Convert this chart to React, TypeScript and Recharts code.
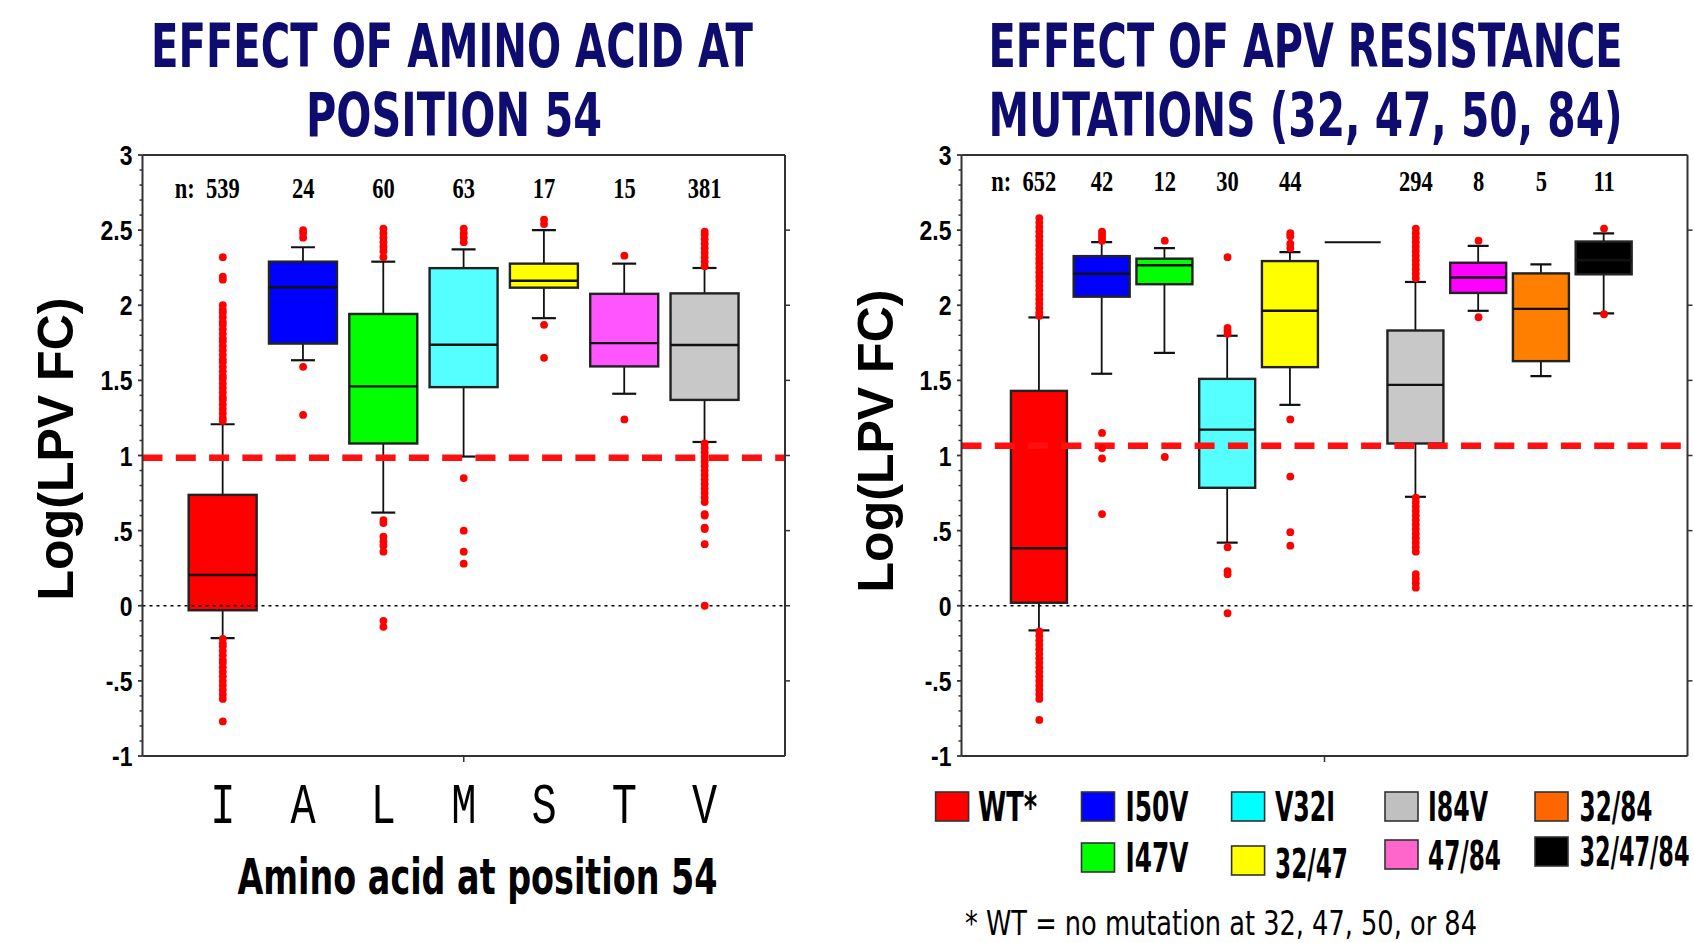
import React from 'react';
import { ComposedChart, Bar, Scatter, XAxis, YAxis, ReferenceLine } from 'recharts';

// ---------------- DATA ----------------
const LEFT_CATEGORIES = ['I', 'A', 'L', 'M', 'S', 'T', 'V'];
const LEFT_N = [539, 24, 60, 63, 17, 15, 381];
const LEFT_Q1 = [-0.03, 1.745, 1.08, 1.455, 2.117, 1.593, 1.37];
const LEFT_MEDIAN = [0.205, 2.12, 1.46, 1.737, 2.163, 1.748, 1.735];
const LEFT_Q3 = [0.738, 2.29, 1.942, 2.247, 2.277, 2.076, 2.079];
const LEFT_LOW = [-0.215, 1.634, 0.62, 0.993, 1.914, 1.411, 1.09];
const LEFT_HIGH = [1.208, 2.386, 2.29, 2.372, 2.5, 2.277, 2.248];
const LEFT_COLORS = ['#ff0000', '#0000ff', '#00ff00', '#55ffff', '#ffff00', '#ff55ff', '#c8c8c8'];
const LEFT_OUTLIERS: number[][] = [
  [2.32, 2.19, 2.17, 2.0, 1.97, 1.95, 1.92, 1.89, 1.87, 1.84, 1.81, 1.78, 1.76, 1.73, 1.7, 1.67, 1.64, 1.62, 1.59, 1.56, 1.53, 1.51, 1.48, 1.45, 1.42, 1.39, 1.37, 1.34, 1.31, 1.28, 1.25, 1.23,
    -0.22, -0.25, -0.27, -0.3, -0.33, -0.36, -0.38, -0.41, -0.44, -0.47, -0.5, -0.53, -0.56, -0.59, -0.62, -0.77],
  [2.5, 2.48, 2.45, 1.59, 1.27],
  [2.51, 2.48, 2.45, 2.42, 2.39, 2.36, 2.32, 0.57, 0.55, 0.46, 0.43, 0.4, 0.36, -0.1, -0.14],
  [2.51, 2.48, 2.45, 2.42, 0.85, 0.5, 0.36, 0.28],
  [2.57, 2.54, 1.87, 1.65],
  [2.33, 1.24],
  [2.49, 2.47, 2.44, 2.41, 2.38, 2.35, 2.32, 2.29, 2.26, 1.08, 1.05, 1.02, 0.99, 0.96, 0.93, 0.9, 0.87, 0.84, 0.81, 0.78, 0.75, 0.72, 0.69, 0.61, 0.6, 0.52, 0.51, 0.41, 0.0],
];
const LEFT_CUTOFF = 0.985;

const RIGHT_CATEGORIES = ['WT', 'I50V', 'I47V', 'V32I', '32/47', '', 'I84V', '47/84', '32/84', '32/47/84'];
const RIGHT_N: (number | null)[] = [652, 42, 12, 30, 44, null, 294, 8, 5, 11];
const RIGHT_Q1 = [0.02, 2.057, 2.14, 0.785, 1.588, 2.42, 1.08, 2.082, 1.628, 2.206];
const RIGHT_MEDIAN = [0.383, 2.21, 2.266, 1.172, 1.963, 2.42, 1.47, 2.185, 1.976, 2.3];
const RIGHT_Q3 = [1.43, 2.327, 2.31, 1.51, 2.294, 2.42, 1.832, 2.283, 2.212, 2.424];
const RIGHT_LOW = [-0.164, 1.544, 1.683, 0.42, 1.337, 2.42, 0.725, 1.963, 1.528, 1.946];
const RIGHT_HIGH = [1.919, 2.42, 2.38, 1.797, 2.353, 2.42, 2.155, 2.395, 2.272, 2.478];
const RIGHT_COLORS = ['#ff0000', '#0000ff', '#00ff00', '#55ffff', '#ffff00', 'none', '#c8c8c8', '#ff00ff', '#ff8000', '#000000'];
const RIGHT_OUTLIERS: number[][] = [
  [2.58, 2.55, 2.52, 2.49, 2.46, 2.43, 2.4, 2.37, 2.34, 2.31, 2.28, 2.25, 2.22, 2.19, 2.16, 2.13, 2.1, 2.07, 2.04, 2.01, 1.98, 1.95, 1.93,
    -0.17, -0.2, -0.23, -0.26, -0.29, -0.32, -0.35, -0.38, -0.41, -0.44, -0.47, -0.5, -0.53, -0.56, -0.59, -0.62, -0.76],
  [2.49, 2.47, 2.45, 2.43, 1.15, 1.05, 0.98, 0.61],
  [2.43, 0.99],
  [2.32, 1.85, 1.83, 1.81, 0.39, 0.23, 0.21, -0.05],
  [2.48, 2.46, 2.41, 2.38, 1.24, 0.86, 0.49, 0.4],
  [],
  [2.51, 2.48, 2.45, 2.42, 2.39, 2.36, 2.33, 2.3, 2.27, 2.24, 2.21, 2.18, 0.72, 0.69, 0.66, 0.63, 0.6, 0.57, 0.54, 0.51, 0.48, 0.45, 0.42, 0.39, 0.36, 0.21, 0.18, 0.15, 0.12],
  [2.43, 1.92],
  [],
  [2.51, 1.94],
];
const RIGHT_CUTOFF = 1.065;

const Y_TICKS = [-1, -0.5, 0, 0.5, 1, 1.5, 2, 2.5, 3];
const Y_SIDE_TICKS = [-0.5, 0, 0.5, 1, 1.5, 2, 2.5];
const Y_MINOR_TICKS = [-1, -0.9, -0.8, -0.7, -0.6, -0.5, -0.4, -0.3, -0.2, -0.1, 0, 0.1, 0.2, 0.3, 0.4, 0.5, 0.6, 0.7, 0.8, 0.9, 1,
  1.1, 1.2, 1.3, 1.4, 1.5, 1.6, 1.7, 1.8, 1.9, 2, 2.1, 2.2, 2.3, 2.4, 2.5, 2.6, 2.7, 2.8, 2.9, 3];

const LEGEND_NAMES = ['WT*', 'I50V', 'V32I', 'I84V', '32/84', 'I47V', '32/47', '47/84', '32/47/84'];
const LEGEND_COLORS = ['#ff0000', '#0000ff', '#00ffff', '#c0c0c0', '#ff6600', '#00ff00', '#ffff00', '#ff66cc', '#000000'];

const LEFT_TITLE = ['EFFECT OF AMINO ACID AT', 'POSITION 54'];
const RIGHT_TITLE = ['EFFECT OF APV RESISTANCE', 'MUTATIONS (32, 47, 50, 84)'];
const Y_TITLE = 'Log(LPV FC)';
const LEFT_X_TITLE = 'Amino acid at position 54';
const FOOTNOTE = '* WT = no mutation at 32, 47, 50, or 84';

// ---------------- LAYOUT / STYLE ----------------
const NAVY = '#0e0c6e';
const AXIS = '#333';
const TITLE_FONT = '"DejaVu Sans Condensed", "Liberation Sans", Arial, sans-serif';
const LEGEND_LAYOUT = [
  { x: 935.6, y: 792, tx: 978, ty: 821, w: 59 },
  { x: 1081.5, y: 792, tx: 1125.5, ty: 821, w: 63 },
  { x: 1231.6, y: 792, tx: 1275, ty: 821, w: 60 },
  { x: 1385, y: 792, tx: 1428, ty: 821, w: 60 },
  { x: 1535, y: 792, tx: 1579.5, ty: 821, w: 73 },
  { x: 1081.5, y: 843, tx: 1125.5, ty: 872, w: 63 },
  { x: 1231.6, y: 846, tx: 1275, ty: 878, w: 73 },
  { x: 1385, y: 840, tx: 1428, ty: 870, w: 73 },
  { x: 1535, y: 837, tx: 1579.5, ty: 866, w: 110 },
];

const fmtY = (v: number) => {
  if (v === 0) return '0';
  if (Math.abs(v) < 1) return (v < 0 ? '-' : '') + String(Math.abs(v)).replace(/^0/, '');
  return String(v);
};
const isMajor = (v: number) => Y_TICKS.some((t) => Math.abs(t - v) < 1e-6);

const buildRows = (cats: string[], q1: number[], med: number[], q3: number[], lo: number[], hi: number[], colors: string[]) =>
  cats.map((name, i) => ({ pos: i + 1, name, q1: q1[i], median: med[i], q3: q3[i], low: lo[i], high: hi[i], color: colors[i] }));

const buildOutliers = (lists: number[][]) => lists.flatMap((vals, i) => vals.map((v) => ({ pos: i + 1, v })));

const leftRows = buildRows(LEFT_CATEGORIES, LEFT_Q1, LEFT_MEDIAN, LEFT_Q3, LEFT_LOW, LEFT_HIGH, LEFT_COLORS);
const rightRows = buildRows(RIGHT_CATEGORIES, RIGHT_Q1, RIGHT_MEDIAN, RIGHT_Q3, RIGHT_LOW, RIGHT_HIGH, RIGHT_COLORS);
const leftOutliers = buildOutliers(LEFT_OUTLIERS);
const rightOutliers = buildOutliers(RIGHT_OUTLIERS);

const makeBoxShape = (capW: number) => (props: any) => {
  const { x, y, width, height, payload } = props;
  if (x == null || y == null) return <g />;
  const top = Math.min(y, y + (height || 0));
  const h = Math.abs(height || 0);
  const { q1, q3, median, low, high, color } = payload;
  const cx = x + width / 2;
  if (!(q3 > q1)) {
    return <line x1={x} x2={x + width} y1={top} y2={top} stroke="#111" strokeWidth={2} />;
  }
  const k = h / (q3 - q1);
  const py = (v: number) => top + (q3 - v) * k;
  const sw = { stroke: '#111', strokeWidth: 1.8 };
  return (
    <g>
      <line x1={cx} x2={cx} y1={py(high)} y2={top} {...sw} />
      <line x1={cx - capW / 2} x2={cx + capW / 2} y1={py(high)} y2={py(high)} {...sw} strokeWidth={2.2} />
      <line x1={cx} x2={cx} y1={top + h} y2={py(low)} {...sw} />
      <line x1={cx - capW / 2} x2={cx + capW / 2} y1={py(low)} y2={py(low)} {...sw} strokeWidth={2.2} />
      <rect x={x} y={top} width={width} height={h} fill={color} stroke="#222" strokeWidth={2.4} />
      <line x1={x} x2={x + width} y1={py(median)} y2={py(median)} stroke="#111" strokeWidth={2.4} />
    </g>
  );
};

const OutlierDot = (props: any) => {
  const { cx, cy } = props;
  if (cx == null || cy == null) return <g />;
  return <circle cx={cx} cy={cy} r={3.9} fill="#ff0000" />;
};

// left y axis: major labels + major/minor tick marks
const YTick = (props: any) => {
  const { x, y, payload } = props;
  const v = payload.value;
  if (!isMajor(v)) {
    return <line x1={x - 3} x2={x} y1={y} y2={y} stroke={AXIS} strokeWidth={1.5} />;
  }
  return (
    <g>
      <line x1={x - 4.5} x2={x} y1={y} y2={y} stroke={AXIS} strokeWidth={1.8} />
      <text transform={`translate(${x - 10},${y + 10}) scale(0.82,1)`} textAnchor="end" fontFamily='"Liberation Sans", Arial, sans-serif'
        fontWeight="bold" fontSize={28} fill="#000">{fmtY(v)}</text>
    </g>
  );
};

const makeNTick = (counts: (number | null)[], baseline: number) => (props: any) => {
  const { x, payload, index } = props;
  const n = counts[Math.round(payload.value) - 1];
  if (n == null) return <g />;
  const common = { fontFamily: '"Liberation Serif", "Times New Roman", serif', fontWeight: 'bold' as const, fontSize: 30, fill: '#000' };
  return (
    <g>
      {index === 0 && (
        <text transform={`translate(${x - 38},${baseline}) scale(0.75,1)`} textAnchor="middle" {...common}>n:</text>
      )}
      <text transform={`translate(${x},${baseline}) scale(0.75,1)`} textAnchor="middle" {...common}>{String(n)}</text>
    </g>
  );
};

const makeBottomTick = (labels: string[] | null, baseline: number, midTick: number) => (props: any) => {
  const { x, y, payload } = props;
  const v = payload.value;
  const isMid = Math.abs(v - midTick) < 1e-6;
  const isCat = Math.abs(v - Math.round(v)) < 1e-6 && labels && labels[Math.round(v) - 1] != null;
  return (
    <g>
      {isMid && <line x1={x} x2={x} y1={y} y2={y + 6} stroke={AXIS} strokeWidth={1.5} />}
      {isCat && (
        <text transform={`translate(${x},${baseline}) scale(1,1.35)`} textAnchor="middle" fontFamily='"Liberation Mono", "DejaVu Sans Mono", monospace'
          fontSize={42} fill="#000">{labels![Math.round(v) - 1]}</text>
      )}
    </g>
  );
};

const emptyFmt = () => '';

type PanelProps = {
  rows: any[];
  outliers: any[];
  counts: (number | null)[];
  cutoff: number;
  width: number;
  margin: { top: number; right: number; bottom: number; left: number };
  xDomain: [number, number];
  midTick: number;
  barSize: number;
  capW: number;
  nBaseline: number;
  sideWidth: number;
  letterLabels: string[] | null;
  letterBaseline: number;
};

function Panel(p: PanelProps) {
  const catTicks: number[] = p.rows.map((r) => r.pos);
  const bottomTicks = catTicks.some((t) => Math.abs(t - p.midTick) < 1e-6) ? catTicks : [...catTicks, p.midTick].sort((a, b) => a - b);
  const axisLine = { stroke: AXIS, strokeWidth: 2 };
  return (
    <ComposedChart width={p.width} height={943} data={p.rows} margin={p.margin}>
      <XAxis type="number" dataKey="pos" domain={p.xDomain} allowDataOverflow ticks={bottomTicks} interval={0} height={187}
        tickSize={0} tickMargin={0} tick={makeBottomTick(p.letterLabels, p.letterBaseline, p.midTick)}
        tickLine={false} axisLine={axisLine} />
      <XAxis xAxisId="top" orientation="top" type="number" dataKey="pos" domain={p.xDomain} allowDataOverflow ticks={catTicks}
        interval={0} height={1} tickSize={0} tick={makeNTick(p.counts, p.nBaseline)} tickLine={false} axisLine={axisLine} />
      <YAxis type="number" domain={[-1, 3]} allowDataOverflow ticks={Y_MINOR_TICKS} interval={0} width={60} tickSize={0} tickMargin={0}
        tick={YTick} axisLine={axisLine} tickLine={false} />
      <YAxis yAxisId="side" orientation="right" type="number" domain={[-1, 3]} allowDataOverflow ticks={Y_SIDE_TICKS} interval={0}
        width={p.sideWidth} tickSize={5} tickFormatter={emptyFmt} axisLine={axisLine} tickLine={{ stroke: AXIS, strokeWidth: 1.5 }} />
      <ReferenceLine y={0} stroke="#000" strokeWidth={1.6} strokeDasharray="3 4" />
      <Bar dataKey={(d: any) => [d.q1, d.q3]} barSize={p.barSize} shape={makeBoxShape(p.capW)} isAnimationActive={false} />
      <ReferenceLine y={p.cutoff} stroke="#ff1010" strokeWidth={6.7} strokeDasharray="20 13.3" />
      <Scatter data={p.outliers} dataKey="v" shape={OutlierDot} isAnimationActive={false} />
    </ComposedChart>
  );
}

type CTProps = { x: number; y: number; w: number; fontSize: number; sy: number; anchor?: string; weight?: string; fill: string; children: string };
const CondText = ({ x, y, w, fontSize, sy, anchor, weight, fill, children }: CTProps) => (
  <text transform={`translate(${x},${y}) scale(1,${sy})`} fontFamily={TITLE_FONT} fontWeight={weight || 'bold'} fontSize={fontSize}
    textAnchor={anchor || 'start'} fill={fill} textLength={w} lengthAdjust="spacingAndGlyphs">{children}</text>
);

export default function App() {
  return (
    <div style={{ position: 'absolute', left: 0, top: 0, width: 1694, height: 943, background: '#fff', overflow: 'hidden' }}>
      <div style={{ position: 'absolute', left: 0, top: 0 }}>
        <Panel rows={leftRows} outliers={leftOutliers} counts={LEFT_N} cutoff={LEFT_CUTOFF} width={830}
          margin={{ top: 154, right: 35, bottom: 0, left: 82.5 }} xDomain={[0, 8]} midTick={4} barSize={68} capW={24}
          nBaseline={198} sideWidth={10} letterLabels={LEFT_CATEGORIES} letterBaseline={823} />
      </div>
      <div style={{ position: 'absolute', left: 840, top: 0 }}>
        <Panel rows={rightRows} outliers={rightOutliers} counts={RIGHT_N} cutoff={RIGHT_CUTOFF} width={854}
          margin={{ top: 154, right: 0.5, bottom: 0, left: 61.5 }} xDomain={[-0.24, 11.33]} midTick={5.545} barSize={56} capW={21}
          nBaseline={191} sideWidth={6} letterLabels={null} letterBaseline={0} />
      </div>
      <svg width={1694} height={943} style={{ position: 'absolute', left: 0, top: 0, pointerEvents: 'none' }}>
        <CondText x={452} y={67} w={602} fontSize={46} sy={1.3} anchor="middle" fill={NAVY}>{LEFT_TITLE[0]}</CondText>
        <CondText x={454} y={136} w={296} fontSize={46} sy={1.3} anchor="middle" fill={NAVY}>{LEFT_TITLE[1]}</CondText>
        <CondText x={1305.6} y={67} w={634} fontSize={46} sy={1.3} anchor="middle" fill={NAVY}>{RIGHT_TITLE[0]}</CondText>
        <CondText x={1305.6} y={136} w={634} fontSize={46} sy={1.3} anchor="middle" fill={NAVY}>{RIGHT_TITLE[1]}</CondText>
        <g fontFamily='"Liberation Sans", Arial, sans-serif' fontWeight="bold" fill="#000" fontSize={50} textAnchor="middle">
          <text transform="translate(73,449) rotate(-90)" textLength={303} lengthAdjust="spacingAndGlyphs">{Y_TITLE}</text>
          <text transform="translate(893,441) rotate(-90)" textLength={303} lengthAdjust="spacingAndGlyphs">{Y_TITLE}</text>
        </g>
        <CondText x={477.5} y={894} w={480} fontSize={40} sy={1.25} anchor="middle" fill="#000">{LEFT_X_TITLE}</CondText>
        {LEGEND_NAMES.map((name, i) => {
          const L = LEGEND_LAYOUT[i];
          return (
            <g key={name}>
              <rect x={L.x} y={L.y} width={33} height={29} fill={LEGEND_COLORS[i]} stroke="#333" strokeWidth={1.6} />
              <CondText x={L.tx} y={L.ty} w={L.w} fontSize={25} sy={1.6} fill="#000">{name}</CondText>
            </g>
          );
        })}
        <CondText x={965} y={935} w={512} fontSize={30} sy={1.15} weight="normal" fill="#000">{FOOTNOTE}</CondText>
      </svg>
    </div>
  );
}
